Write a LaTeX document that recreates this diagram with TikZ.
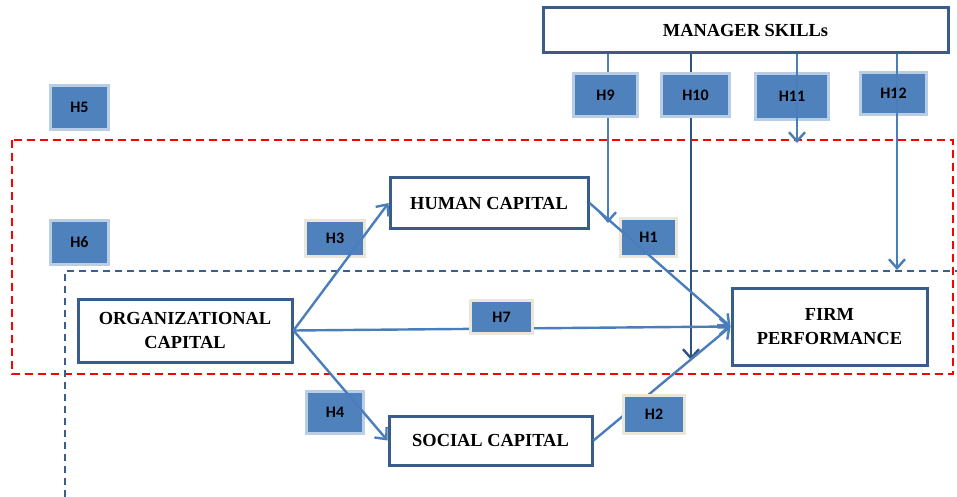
\documentclass[tikz,border=0pt]{standalone}
\usepackage{fontspec}
\setmainfont{Liberation Serif}
\newfontfamily\hfont{Carlito}
\usetikzlibrary{arrows.meta}
\definecolor{boxline}{RGB}{56,93,138}
\definecolor{linkblue}{RGB}{74,126,187}
\definecolor{darklink}{RGB}{48,82,128}
\definecolor{hblue}{RGB}{79,129,189}
\definecolor{glowblue}{RGB}{185,205,229}
\definecolor{glowbeige}{RGB}{234,231,218}
\definecolor{dashblue}{RGB}{59,95,140}
\begin{document}
\begin{tikzpicture}[x=.5pt,y=-.5pt,
        var/.style={draw=boxline,line width=1.5pt,fill=white,align=center,inner sep=0pt,
                    font=\fontsize{9.2}{12}\selectfont\bfseries},
        hyp/.style={fill=hblue,draw=glowblue,line width=1.5pt,inner sep=0pt,
                    font=\hfont\fontsize{8}{9}\selectfont\bfseries},
        hypb/.style={hyp,draw=glowbeige},
        link/.style={draw=linkblue,line width=1.2pt,-{Straight Barb[length=4.5pt,width=8pt]}}]
        \useasboundingbox (0,0) rectangle (957,497);
        \draw[red,line width=1pt,dash pattern=on 4pt off 2.5pt] (12,140) rectangle (953,374);
        \draw[dashblue,line width=1pt,dash pattern=on 3.5pt off 2.5pt] (65,497) -- (65,271) -- (957,271);

        \node[var,minimum width=202.5pt,minimum height=22.5pt] (skills) at (745.5,30.5) {MANAGER SKILLs};
        \node[var,minimum width=99pt,minimum height=25pt] (human) at (489,203) {HUMAN CAPITAL};
        \node[var,minimum width=107pt,minimum height=31.5pt] (org) at (185,330.5) {ORGANIZATIONAL\\CAPITAL};
        \node[var,minimum width=97.5pt,minimum height=38.5pt] (firm) at (829.5,326.5) {FIRM\\PERFORMANCE};
        \node[var,minimum width=101.5pt,minimum height=24.5pt] (social) at (490.5,440.5) {SOCIAL CAPITAL};

        \coordinate (t9) at (608,223);
        \coordinate (t10) at (691,360);
        \coordinate (t11) at (797,143);
        \coordinate (t12) at (897,270);
        \draw[link] (skills.south -| t9) -- (t9);
        \draw[link,draw=darklink] (skills.south -| t10) -- (t10);

        \node[hyp,minimum width=32pt,minimum height=21.5pt] (h9) at (605.5,95) {H9};
        \node[hyp,minimum width=34pt,minimum height=21.5pt] (h10) at (695.5,95) {H10};
        \node[hyp,minimum width=36.5pt,minimum height=23pt] (h11) at (792,96.5) {H11};
        \node[hyp,minimum width=33pt,minimum height=21pt] (h12) at (893.5,93.5) {H12};
        \node[hyp,minimum width=29pt,minimum height=22pt] (h5) at (79.5,107.5) {H5};
        \node[hyp,minimum width=29pt,minimum height=22pt] (h6) at (79.5,242.5) {H6};
        \node[hypb,minimum width=29.5pt,minimum height=18pt] (h3) at (335,238.5) {H3};
        \node[hypb,minimum width=28pt,minimum height=19pt] (h1) at (648.5,237.5) {H1};
        \node[hyp,minimum width=28.5pt,minimum height=21pt] (h4) at (335,412.5) {H4};

        \draw[link] (skills.south -| t11) -- (t11);
        \draw[link] (skills.south -| t12) -- (t12);
        \draw[link] (org.east) -- (human.west);
        \draw[link] (org.east) -- (social.west);
        \draw[link] (org.east) -- (firm.west);
        \draw[link] (human.east) -- (firm.west);
        \draw[link] (social.east) -- (firm.west);

        \node[hypb,minimum width=31pt,minimum height=16.5pt] (h7) at (501.5,317) {H7};
        \node[hypb,minimum width=30.5pt,minimum height=19pt] (h2) at (654,414.5) {H2};
      \end{tikzpicture}
\end{document}
